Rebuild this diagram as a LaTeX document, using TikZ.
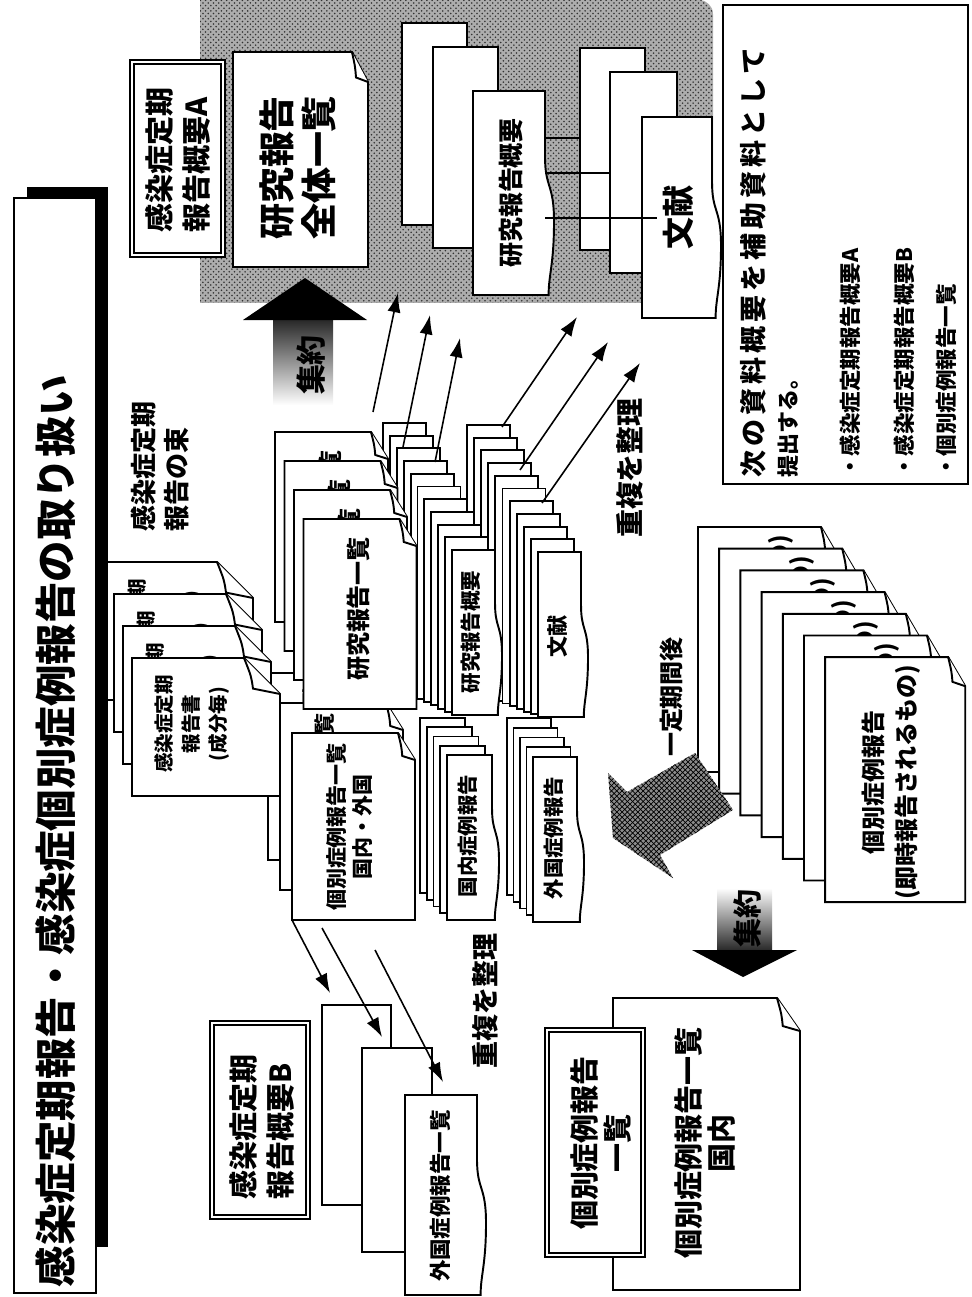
\documentclass[tikz,border=0pt]{standalone}
\usepackage{fontspec}
\setmainfont{Noto Sans CJK JP}
\usetikzlibrary{arrows.meta,patterns}
\newcommand\pxsize[2]{\fontsize{\fpeval{#1*0.569}pt}{\fpeval{#2*0.569}pt}\selectfont\bfseries}
\tikzset{
  sheet/.style={draw, fill=white, line width=1.1pt, line join=miter},
  dbox/.style={draw, double, double distance=1.4pt, line width=0.8pt, fill=white},
  jp/.style={rotate=90, inner sep=0pt},
  flow/.style={-{Latex[length=11pt,width=7.5pt]}, line width=0.9pt},
}
% sheet with a turned-down corner: x, y, width, height, fold x, fold y
\newcommand\foldpage[6]{%
  \filldraw[sheet] (#1,#2) -- ({#1+#3-#5},#2) -- ({#1+#3},{#2+#6}) -- ({#1+#3},{#2+#4}) -- (#1,{#2+#4}) -- cycle;
  \draw[sheet] ({#1+#3-#5},#2) .. controls ({#1+#3-0.8*#5},{#2+0.5*#6}) .. ({#1+#3-0.75*#5},{#2+0.85*#6}) -- ({#1+#3},{#2+#6});
}
% sheet with a wavy edge: x, y, width, height, bulge
\newcommand\wavepage[5]{%
  \filldraw[sheet] (#1,#2) -- ({#1+#3},#2) -- ({#1+#3},{#2+0.32*#4})
    .. controls ({#1+#3},{#2+0.48*#4}) and ({#1+#3+#5},{#2+0.45*#4}) .. ({#1+#3+#5},{#2+0.64*#4})
    .. controls ({#1+#3+#5},{#2+0.85*#4}) and ({#1+#3+0.4*#5},{#2+0.9*#4}) .. ({#1+#3+0.4*#5},{#2+#4})
    -- (#1,{#2+#4}) -- cycle;
}
\begin{document}
\begin{tikzpicture}[x=0.02cm, y=-0.02cm]
\useasboundingbox (0,0) rectangle (971,1297);

% Drawing shaded area of submitted documents
\fill[black!32, postaction={pattern=crosshatch dots, pattern color=black!80}] (200,303) -- (200,0) -- (690,0) [rounded corners=8pt] -- (713,0) -- (713,40) [sharp corners] -- (713,303) -- cycle;

% Drawing research summaries and literature in the area
\filldraw[sheet] (402,23) rectangle (467,225);
\filldraw[sheet] (433,47) rectangle (498,248);
\wavepage{473}{91}{72}{204}{9}
\node[jp, font=\pxsize{25}{30}] (sumR) at (511,193) {研究報告概要};
\coordinate (r3) at (545,193);
\node[sheet, minimum width=1.3cm, minimum height=4.04cm, inner sep=0pt] (s1) at (612.5,149) {};
\node[sheet, minimum width=1.34cm, minimum height=4.02cm, inner sep=0pt] (s2) at (643.5,172.5) {};
\wavepage{642}{117}{70}{201}{9}
\node[jp, font=\pxsize{32}{36}] (litR) at (678,218) {文献};
\coordinate (s3) at (657,218);
\draw[line width=0.9pt] (r3 |- 0,138) -- (s1.west |- 0,138);
\draw[line width=0.9pt] (r3 |- 0,173) -- (s2.west |- 0,173);
\draw[line width=0.9pt] (r3 |- 0,218) -- (s3);

% Drawing summary box A and the full research list
\draw[dbox] (132,62) rectangle (223,255);
\node[jp, align=left, font=\pxsize{29}{37}] (sumA) at (178,160) {感染症定期\\報告概要A};
\foldpage{233}{52}{135}{215}{16}{30}
\node[jp, align=center, font=\pxsize{36}{42}] (allList) at (298,168) {研究報告\\全体一覧};

% Drawing big arrow up
\shade[top color=black!85, bottom color=white] (273,319) rectangle (333,405);
\fill (243,320) -- (305,278) -- (367,320) -- cycle;
\node[jp, font=\pxsize{30}{32}] (sumUp) at (311,365) {集約};

% Drawing stacks of literature and summaries
\foreach \k in {0,...,9} {
  \pgfmathsetmacro\xx{467+7.1*\k}
  \pgfmathsetmacro\ya{425+12.7*\k}
  \pgfmathsetmacro\yb{690+2.7*\k}
  \filldraw[sheet] (\xx,\ya) rectangle ({\xx+43},\yb);
}
\wavepage{538}{552}{43}{165}{7}
\node[jp, font=\pxsize{21}{24}] (litC) at (558,636) {文献};
\foreach \k in {0,...,9} {
  \pgfmathsetmacro\xx{383+6.9*\k}
  \pgfmathsetmacro\ya{423+12.7*\k}
  \pgfmathsetmacro\yb{683+3.2*\k}
  \filldraw[sheet] (\xx,\ya) rectangle ({\xx+43},\yb);
}
\wavepage{452}{550}{43}{165}{7}
\node[jp, font=\pxsize{20.5}{24}] (sumC) at (471,632) {研究報告概要};

% Drawing stacks of foreign and domestic cases
\foreach \k in {0,...,3} {
  \pgfmathsetmacro\xx{507+6.5*\k}
  \pgfmathsetmacro\ya{718+9.75*\k}
  \pgfmathsetmacro\yb{895+6.75*\k}
  \filldraw[sheet] (\xx,\ya) rectangle ({\xx+44},\yb);
}
\wavepage{533}{757}{44}{165}{7}
\node[jp, font=\pxsize{20.5}{24}] (forC) at (554,838) {外国症例報告};
\foreach \k in {0,...,3} {
  \pgfmathsetmacro\xx{420+6.75*\k}
  \pgfmathsetmacro\ya{718+9.25*\k}
  \pgfmathsetmacro\yb{893+6.75*\k}
  \filldraw[sheet] (\xx,\ya) rectangle ({\xx+45},\yb);
}
\wavepage{447}{755}{45}{165}{7}
\node[jp, font=\pxsize{20.5}{24}] (domC) at (468,836) {国内症例報告};

% Drawing stack of case lists
\foreach \k in {0,1,2} {
  \pgfmathsetmacro\xx{268+12*\k}
  \pgfmathsetmacro\ya{673+30*\k}
  \foldpage{\xx}{\ya}{123}{187}{17}{27}
  \node[jp, align=center, font=\pxsize{21}{26}] (cl\k) at ({\xx+58},{\ya+94}) {個別症例報告一覧\\国内・外国};
}

% Drawing stack of research lists
\foreach \k in {0,...,3} {
  \pgfmathsetmacro\xx{275+9.5*\k}
  \pgfmathsetmacro\ya{432+29*\k}
  \foldpage{\xx}{\ya}{113}{190}{17}{27}
  \node[jp, font=\pxsize{24}{28}] (rl\k) at ({\xx+55},{\ya+90}) {研究報告一覧};
}

% Drawing stack of periodic reports
\foreach \k in {0,...,3} {
  \pgfmathsetmacro\xx{105+9*\k}
  \pgfmathsetmacro\ya{562+32*\k}
  \foldpage{\xx}{\ya}{148}{138}{36}{36}
  \node[jp, align=center, font=\pxsize{19.5}{27}] (pr\k) at ({\xx+60},{\ya+66}) {感染症定期\\報告書\\(成分毎)};
}
\node[jp, anchor=west, align=left, font=\pxsize{26}{33}] (bundle) at (160,532) {感染症定期\\報告の束};

% Drawing stack of individual case reports
\foreach \k in {0,...,6} {
  \pgfmathsetmacro\xx{698+21.2*\k}
  \pgfmathsetmacro\ya{527+21.7*\k}
  \foldpage{\xx}{\ya}{140}{245}{17}{29}
  \node[jp, align=center, font=\pxsize{24}{33}] (cr\k) at ({\xx+66},{\ya+125}) {個別症例報告\\(即時報告されるもの)};
}

% Drawing hatched arrow and label
\fill[black!45, postaction={pattern=crosshatch, pattern color=black}] (695,753) -- (733,810) -- (660,855) -- (673,878) -- (613,838) -- (608,773) -- (627,792) -- cycle;
\node[jp, font=\pxsize{24}{28}] (period) at (671,697) {一定期間後};

% Drawing big arrow down
\shade[top color=white, bottom color=black!85] (717,888) rectangle (772,951);
\fill (692,950) -- (797,950) -- (743,977) -- cycle;
\node[jp, font=\pxsize{29}{32}] (sumDown) at (747,918) {集約};

% Drawing foreign case lists and summary box B
\filldraw[sheet] (322,1005) rectangle (391,1205);
\filldraw[sheet] (362,1048) rectangle (432,1252);
\wavepage{405}{1095}{72}{200}{9}
\node[jp, font=\pxsize{21.5}{24}] (forL) at (440,1196) {外国症例報告一覧};
\draw[dbox] (212,1023) rectangle (308,1217);
\node[jp, align=left, font=\pxsize{29}{37}] (sumB) at (262,1127) {感染症定期\\報告概要B};

% Drawing domestic case list and case list box
\foldpage{613}{998}{187}{292}{23}{33}
\node[jp, align=center, font=\pxsize{29}{33}] (domL) at (705,1143) {個別症例報告一覧\\国内};
\draw[dbox] (547,1030) rectangle (643,1255);
\node[jp, align=center, font=\pxsize{29}{33}] (caseL) at (601,1143) {個別症例報告\\一覧};

% Drawing labels
\node[jp, font=\pxsize{28}{30}] (dedupU) at (630,468) {重複を整理};
\node[jp, font=\pxsize{27}{30}] (dedupL) at (485,1001) {重複を整理};

% Drawing arrows to the submitted documents
\coordinate (u1a) at (373,412); \coordinate (u1b) at (398,293);
\coordinate (u2a) at (403,447); \coordinate (u2b) at (430,315);
\coordinate (u3a) at (435,462); \coordinate (u3b) at (460,338);
\coordinate (u4a) at (502,427); \coordinate (u4b) at (577,317);
\coordinate (u5a) at (520,470); \coordinate (u5b) at (608,342);
\coordinate (u6a) at (542,503); \coordinate (u6b) at (640,363);
\foreach \i in {1,...,6} \draw[flow] (u\i a) -- (u\i b);

% Drawing arrows to the foreign case lists
\coordinate (d1a) at (292,920); \coordinate (d1b) at (330,993);
\coordinate (d2a) at (322,928); \coordinate (d2b) at (382,1037);
\coordinate (d3a) at (375,950); \coordinate (d3b) at (443,1082);
\foreach \i in {1,2,3} \draw[flow] (d\i a) -- (d\i b);

% Drawing title
\fill (27,187) rectangle (108,1247);
\filldraw[fill=white, line width=1pt] (14,198) rectangle (96,1293);
\node[jp, font=\pxsize{41.5}{44}] (title) at (56,831) {感染症定期報告・感染症個別症例報告の取り扱い};

% Drawing note box
\draw[line width=0.6pt] (723,5) rectangle (968,484);
\node[jp, anchor=west, font=\pxsize{27}{30}\addfontfeatures{LetterSpace=15}] (note1) at (753,478) {次の資料概要を補助資料として};
\node[jp, anchor=west, font=\pxsize{22}{26}] (note2) at (788,478) {提出する。};
\node[jp, anchor=west, font=\pxsize{21.5}{26}] (note3) at (850,478) {・感染症定期報告概要A};
\node[jp, anchor=west, font=\pxsize{21.5}{26}] (note4) at (904,478) {・感染症定期報告概要B};
\node[jp, anchor=west, font=\pxsize{21.5}{26}] (note5) at (946,478) {・個別症例報告一覧};
\end{tikzpicture}
\end{document}
